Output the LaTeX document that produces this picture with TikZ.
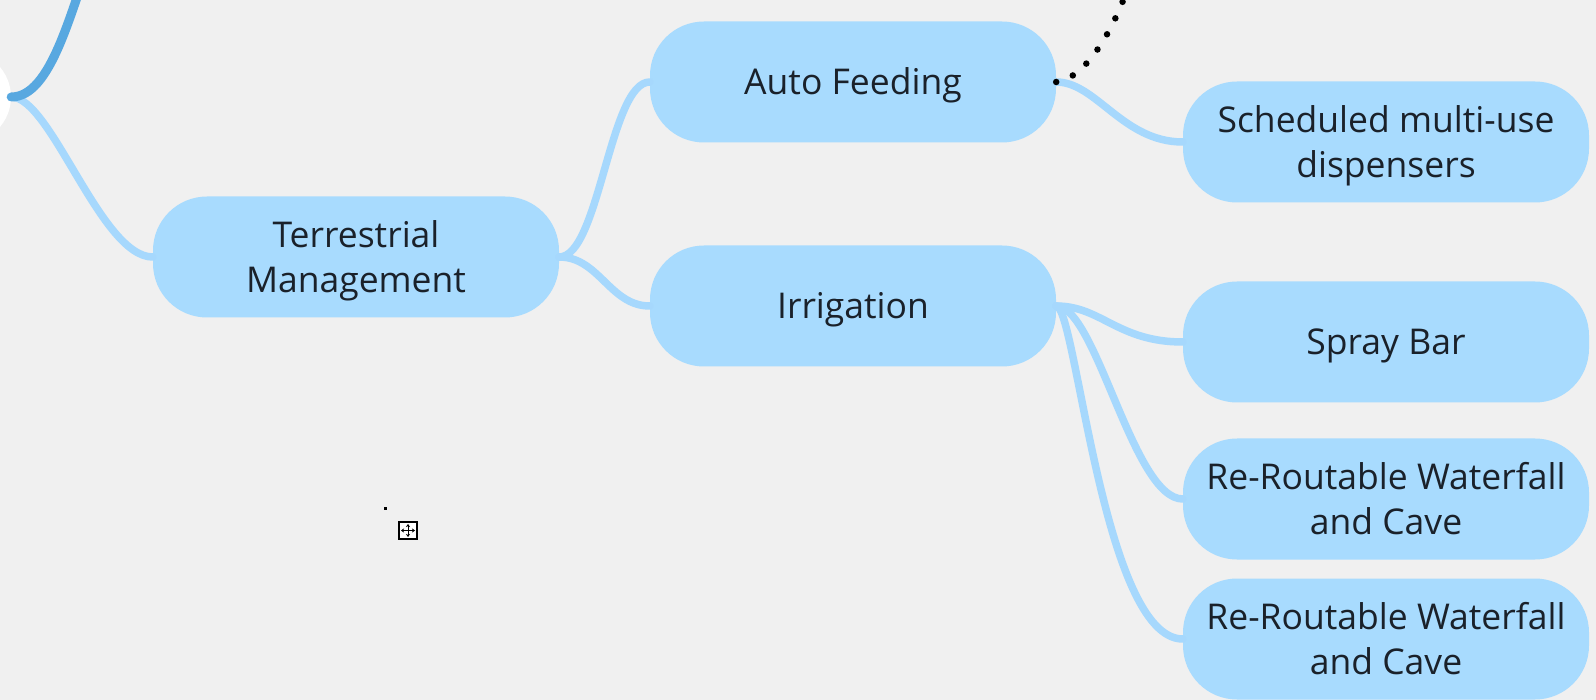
\documentclass[tikz,border=0pt]{standalone}
\usepackage{fontspec}
\setmainfont{Open Sans}
\usetikzlibrary{arrows.meta}
\definecolor{bgc}{RGB}{240,240,240}
\definecolor{nodeblue}{RGB}{168,219,254}
\definecolor{linkblue}{RGB}{166,216,253}
\definecolor{darkblue}{RGB}{88,168,224}
\definecolor{textdark}{RGB}{26,33,42}
\newcommand\toplab[1]{\raisebox{-4pt}[\height][\depth]{\begin{tabular}{@{}c@{}}#1\end{tabular}}}
\tikzset{
  topic/.style={fill=nodeblue, rounded corners=54pt, minimum width=406pt, minimum height=121pt,
    align=center, font=\fontsize{35.5}{45}\selectfont, text=textdark, inner sep=0pt},
  link/.style={draw=linkblue, line width=7.5pt, line cap=round},
  darklink/.style={draw=darkblue, line width=9pt, line cap=round},
  dotlink/.style={draw=black, line width=6.5pt, line cap=round, dash pattern=on 0pt off 18pt},
}
\begin{document}
\begin{tikzpicture}[x=1pt,y=-1pt]
\fill[bgc] (0,0) rectangle (1596,700);
\useasboundingbox (0,0) rectangle (1596,700);
\clip (0,0) rectangle (1596,700);
% root (partly visible)
\node[fill=white, rounded corners=46pt, minimum width=300pt, minimum height=92pt, inner sep=0pt] (root) at (-139,97) {};
\coordinate (upper) at (92,-45);
\coordinate (dotend) at (1130,-20);
% topics
\node[topic] (terr) at (356,257) {\toplab{Terrestrial\\Management}};
\node[topic] (auto) at (853,82) {\toplab{Auto Feeding}};
\node[topic] (irr) at (853,306) {\toplab{Irrigation}};
\node[topic] (sched) at (1386,142) {\toplab{Scheduled multi-use\\dispensers}};
\node[topic] (spray) at (1386,342) {\toplab{Spray Bar}};
\node[topic] (rr1) at (1386,499) {\toplab{Re-Routable Waterfall\\and Cave}};
\node[topic] (rr2) at (1386,639) {\toplab{Re-Routable Waterfall\\and Cave}};
% connectors
\draw[link] (root.east) .. controls +(40,0) and +(-52,0) .. (terr.west);
\draw[darklink] (root.east) .. controls +(40,0) and +(-22,57) .. (upper);
\draw[link] (terr.east) .. controls +(40,0) and +(-40,0) .. (auto.west);
\draw[link] (terr.east) .. controls +(40,0) and +(-40,0) .. (irr.west);
\draw[link] (auto.east) .. controls +(40,0) and +(-60,0) .. (sched.west);
\draw[link] (irr.east) .. controls +(45,0) and +(-65,0) .. (spray.west);
\draw[link] (irr.east) .. controls +(40,0) and +(-50,0) .. (rr1.west);
\draw[link] (irr.east) .. controls +(20,0) and +(-80,0) .. (rr2.west);
\draw[dotlink] (auto.east) .. controls +(35,-4) and +(-8,30) .. (dotend);
% small marks
\fill[black] (383.5,506.5) rectangle (386.5,509.5);
\draw[black, line width=1.5pt, fill=white] (399,522) rectangle (417,539);
\draw[black, line width=1pt, {Stealth[length=3pt,width=4pt]}-{Stealth[length=3pt,width=4pt]}] (408,524) -- (408,537);
\draw[black, line width=1pt, {Stealth[length=3pt,width=4pt]}-{Stealth[length=3pt,width=4pt]}] (401,530.5) -- (415,530.5);
\end{tikzpicture}
\end{document}
